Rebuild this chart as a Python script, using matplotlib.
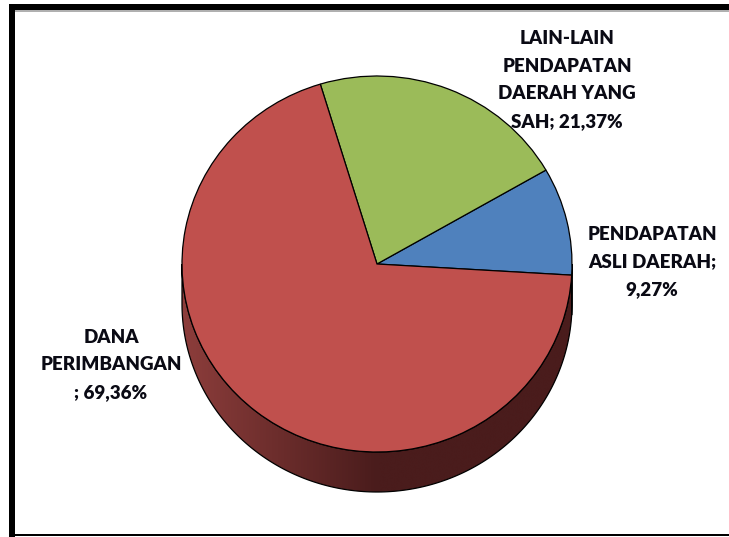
import numpy as np
import matplotlib
matplotlib.use("Agg")
import matplotlib.pyplot as plt
from matplotlib.patches import Polygon, Rectangle
from matplotlib.colors import LinearSegmentedColormap

# ---- data ----
categories = ["PENDAPATAN ASLI DAERAH", "LAIN-LAIN PENDAPATAN DAERAH YANG SAH", "DANA PERIMBANGAN"]
values = [9.27, 21.37, 69.36]
colors = ["#4F81BD", "#9BBB59", "#C0504D"]
side_dark = ["#2B4A6F", "#5A6E33", "#4A1C1C"]
side_light = ["#3D6592", "#73903F", "#8E3E3C"]
label_text = [
    "PENDAPATAN\nASLI DAERAH;\n{}%",
    "LAIN-LAIN\nPENDAPATAN\nDAERAH YANG\nSAH; {}%",
    "DANA\nPERIMBANGAN\n; {}%",
]
label_pos_px = [(652, 262), (567, 80), (111, 365)]  # label centres (pixels from top-left)

W, H, DPI = 729, 537, 100
CX, CY, RX, RY = 377, 264, 195, 188   # pie top face centre / radii in pixels
DEPTH = 40
START = -3.4

fig = plt.figure(figsize=(W / DPI, H / DPI), dpi=DPI)
ax = fig.add_axes([0, 0, 1, 1])

wedges, _ = ax.pie(values, colors=colors, startangle=START, counterclock=True,
                   radius=1.0, center=(0, 0),
                   wedgeprops=dict(edgecolor="black", linewidth=0.9))
for w in wedges:
    w.set_zorder(5)

ax.set_aspect("auto")
d = DEPTH / RY
total = sum(values)
ang = START
for i, v in enumerate(values):
    a1, a2 = ang, ang + 360 * v / total
    ang = a2
    for shift in (0, 360, -360):
        lo = max(a1 + shift, 180)
        hi = min(a2 + shift, 360)
        if hi <= lo:
            continue
        t = np.radians(np.linspace(lo, hi, 200))
        upper = np.column_stack([np.cos(t), np.sin(t)])
        lower = np.column_stack([np.cos(t[::-1]), np.sin(t[::-1]) - d])
        pts = np.vstack([upper, lower])
        ax.add_patch(Polygon(pts, closed=True, facecolor="none",
                             edgecolor="black", linewidth=0.9, zorder=4))
        cmap = LinearSegmentedColormap.from_list(
            "s%d" % i, [side_light[i], side_dark[i], side_dark[i]])
        grad = np.linspace(0, 1, 256).reshape(1, -1)
        im = ax.imshow(grad, cmap=cmap, extent=(-1.02, 1.02, -1 - d - 0.02, 0.05),
                       aspect="auto", zorder=3, interpolation="bicubic")
        im.set_clip_path(Polygon(pts, closed=True, transform=ax.transData))

ax.set_xlim(-CX / RX, (W - CX) / RX)
ax.set_ylim((CY - H) / RY, CY / RY)
ax.axis("off")

font = ["Lato", "DejaVu Sans"]
for txt, v, (px, py) in zip(label_text, values, label_pos_px):
    s = txt.format(f"{v:.2f}".replace(".", ","))
    ax.text((px - CX) / RX, (CY - py) / RY, s, ha="center", va="center",
            fontsize=13.5, fontweight="heavy", family=font, color="#0A0A14",
            linespacing=1.75, zorder=10)

# frame
def rect_px(x0, y0, x1, y1, color):
    fig.patches.append(Rectangle((x0 / W, 1 - y1 / H), (x1 - x0) / W, (y1 - y0) / H,
                                 transform=fig.transFigure, facecolor=color,
                                 edgecolor="none", zorder=20))

rect_px(9, 4, 15, H, "black")
rect_px(9, 4, W, 10, "black")
rect_px(15, 10, W, 11.5, "#B0B0B0")
rect_px(9, 534, W, 536, "black")

fig.savefig("out.png", dpi=DPI)
